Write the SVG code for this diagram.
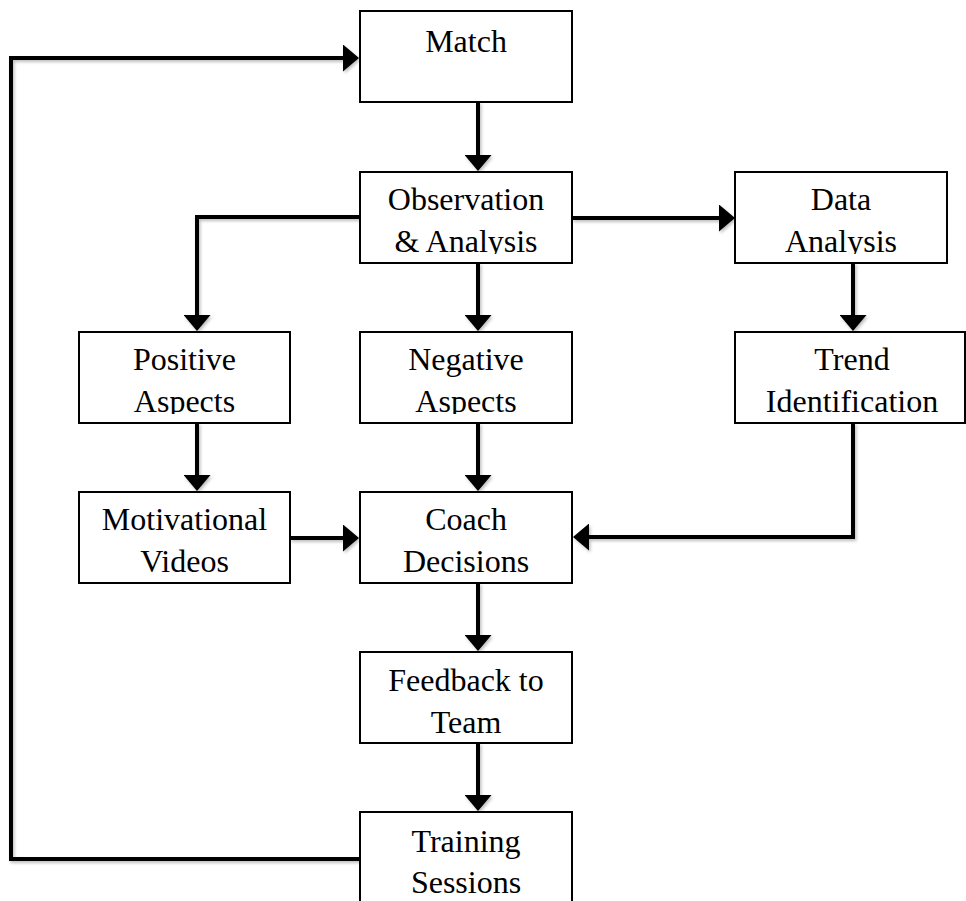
<svg xmlns="http://www.w3.org/2000/svg" width="966" height="901" viewBox="0 0 966 901">
  <style>
    .box { fill: #ffffff; stroke: #000000; stroke-width: 2; }
    .lbl { font-family: "Liberation Serif", "Times New Roman", serif; font-size: 32px; fill: #000000; text-anchor: middle; }
    .conn { fill: none; stroke: #000000; stroke-width: 4; stroke-linejoin: miter; marker-end: url(#head); }
  </style>
  <defs>
    <marker id="head" markerUnits="userSpaceOnUse" markerWidth="17" markerHeight="27" refX="0" refY="13.5" orient="auto">
      <path d="M0,0 L16,13.5 L0,27 Z" fill="#000000"/>
    </marker>
    <filter id="soft" x="-10%" y="-10%" width="130%" height="130%">
      <feDropShadow dx="1.5" dy="2" stdDeviation="1.5" flood-color="#000000" flood-opacity="0.25"/>
    </filter>
    <!-- text areas end a little above the box border, as in a fixed-height text frame -->
    <clipPath id="clipRow2Mid" clipPathUnits="userSpaceOnUse"><rect x="360" y="172" width="212" height="82"/></clipPath>
    <clipPath id="clipRow2Right" clipPathUnits="userSpaceOnUse"><rect x="735" y="172" width="212" height="82"/></clipPath>
    <clipPath id="clipRow3Left" clipPathUnits="userSpaceOnUse"><rect x="79" y="332" width="211" height="82"/></clipPath>
    <clipPath id="clipRow3Mid" clipPathUnits="userSpaceOnUse"><rect x="360" y="332" width="212" height="82"/></clipPath>
  </defs>

  <g id="connectors" filter="url(#soft)">
    <path class="conn" d="M478,102 V155"/>
    <path class="conn" d="M572,218 H719"/>
    <path class="conn" d="M360,217 H197 V315"/>
    <path class="conn" d="M478,263 V315"/>
    <path class="conn" d="M853,263 V315"/>
    <path class="conn" d="M197,423 V475"/>
    <path class="conn" d="M478,423 V475"/>
    <path class="conn" d="M290,538 H343"/>
    <path class="conn" d="M853,423 V537 H589"/>
    <path class="conn" d="M478,583 V635"/>
    <path class="conn" d="M478,743 V795"/>
    <path class="conn" d="M360,859 H11 V58 H343"/>
  </g>

  <g id="match">
    <rect class="box" x="360" y="11" width="212" height="91"/>
    <text class="lbl" x="466" y="52">Match</text>
  </g>

  <g id="observation">
    <rect class="box" x="360" y="172" width="212" height="91"/>
    <text class="lbl" clip-path="url(#clipRow2Mid)"><tspan x="466" y="210">Observation</tspan><tspan x="466" y="252">&amp; Analysis</tspan></text>
  </g>

  <g id="data-analysis">
    <rect class="box" x="735" y="172" width="212" height="91"/>
    <text class="lbl" clip-path="url(#clipRow2Right)"><tspan x="841" y="210">Data</tspan><tspan x="841" y="252">Analysis</tspan></text>
  </g>

  <g id="positive-aspects">
    <rect class="box" x="79" y="332" width="211" height="91"/>
    <text class="lbl" clip-path="url(#clipRow3Left)"><tspan x="184.5" y="370">Positive</tspan><tspan x="184.5" y="412">Aspects</tspan></text>
  </g>

  <g id="negative-aspects">
    <rect class="box" x="360" y="332" width="212" height="91"/>
    <text class="lbl" clip-path="url(#clipRow3Mid)"><tspan x="466" y="370">Negative</tspan><tspan x="466" y="412">Aspects</tspan></text>
  </g>

  <g id="trend-identification">
    <rect class="box" x="735" y="332" width="230" height="91"/>
    <text class="lbl"><tspan x="852" y="370">Trend</tspan><tspan x="852" y="412">Identification</tspan></text>
  </g>

  <g id="motivational-videos">
    <rect class="box" x="79" y="492" width="211" height="91"/>
    <text class="lbl"><tspan x="184.5" y="530">Motivational</tspan><tspan x="184.5" y="572">Videos</tspan></text>
  </g>

  <g id="coach-decisions">
    <rect class="box" x="360" y="492" width="212" height="91"/>
    <text class="lbl"><tspan x="466" y="530">Coach</tspan><tspan x="466" y="572">Decisions</tspan></text>
  </g>

  <g id="feedback">
    <rect class="box" x="360" y="652" width="212" height="91"/>
    <text class="lbl"><tspan x="466" y="691">Feedback to</tspan><tspan x="466" y="733">Team</tspan></text>
  </g>

  <g id="training-sessions">
    <rect class="box" x="360" y="812" width="212" height="100"/>
    <text class="lbl"><tspan x="466" y="852">Training</tspan><tspan x="466" y="893">Sessions</tspan></text>
  </g>
</svg>
